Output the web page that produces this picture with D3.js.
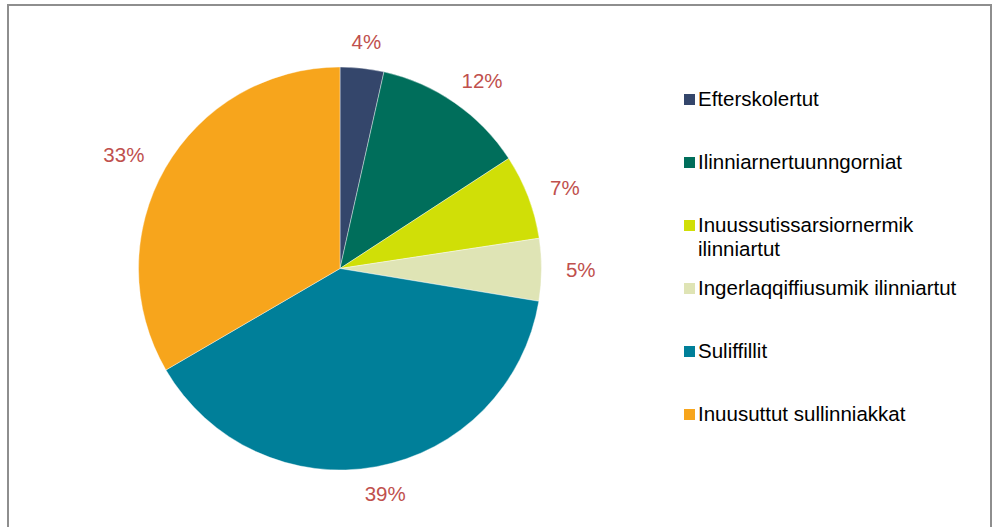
<!DOCTYPE html>
<html>
<head>
<meta charset="utf-8">
<script src="https://cdn.jsdelivr.net/npm/d3@7"></script>
<style>
  body { margin: 0; background: #fff; }
  text { font-family: "Liberation Sans", Arial, sans-serif; }
</style>
</head>
<body>
<script>
var categories = ['Efterskolertut',
  'Ilinniarnertuunngorniat',
  'Inuussutissarsiornermik ilinniartut',
  'Ingerlaqqiffiusumik ilinniartut',
  'Suliffillit',
  'Inuusuttut sullinniakkat'];
var values = [3.5, 12.3, 6.8, 5.0, 39.0, 33.4];
var colors = ['#34466b', '#006e5b', '#d0df07', '#dfe4b5', '#007f99', '#f7a51c'];

var w = 998;
var h = 527;
var cx = 340;
var cy = 268.5;
var r = 201.5;

var svg = d3.select("body").append("svg")
  .attr("width", w)
  .attr("height", h);

// chart frame
svg.append("rect")
  .attr("x", 8)
  .attr("y", 5)
  .attr("width", 983)
  .attr("height", 540)
  .attr("fill", "none")
  .attr("stroke", "#8e8e8e")
  .attr("stroke-width", 2);

var total = d3.sum(values);
var pie = d3.pie().sort(null).value(function(d) { return d; });
var arcs = pie(values);
var arc = d3.arc().innerRadius(0).outerRadius(r);

var g = svg.append("g")
  .attr("transform", "translate(" + cx + "," + cy + ")");

g.selectAll("path")
  .data(arcs)
  .enter()
  .append("path")
  .attr("d", arc)
  .attr("fill", function(d, i) { return colors[i]; })
  .attr("stroke", "#fff")
  .attr("stroke-width", 0.4);

// percent labels, outside end
var pad = 17;
g.selectAll("text.pct")
  .data(arcs)
  .enter()
  .append("text")
  .attr("class", "pct")
  .text(function(d) { return Math.round(d.value / total * 100) + "%"; })
  .attr("font-size", "20.5px")
  .attr("fill", "#c0504d")
  .attr("text-anchor", "middle")
  .attr("dominant-baseline", "central")
  .attr("x", function(d) {
    var a = (d.startAngle + d.endAngle) / 2;
    var tw = this.getComputedTextLength();
    return (r + pad) * Math.sin(a) + tw * 0.75 * Math.sin(a);
  })
  .attr("y", function(d) {
    var a = (d.startAngle + d.endAngle) / 2;
    return -(r + pad) * Math.cos(a) - 10 * Math.cos(a);
  });

// legend
var legend = svg.append("g")
  .attr("transform", "translate(684,106)");

var item = legend.selectAll("g")
  .data(categories)
  .enter()
  .append("g")
  .attr("transform", function(d, i) { return "translate(0," + (i * 63) + ")"; });

item.append("rect")
  .attr("x", 0)
  .attr("y", -12)
  .attr("width", 11)
  .attr("height", 11)
  .attr("fill", function(d, i) { return colors[i]; });

item.append("text")
  .attr("y", 0)
  .attr("font-size", "20.5px")
  .attr("fill", "#000")
  .each(function(d) {
    var t = d3.select(this);
    var words = d.split(" ");
    var line = [];
    var tspan = t.append("tspan").attr("x", 14).attr("dy", 0);
    words.forEach(function(word) {
      line.push(word);
      tspan.text(line.join(" "));
      if (tspan.node().getComputedTextLength() > 280 && line.length > 1) {
        line.pop();
        tspan.text(line.join(" "));
        line = [word];
        tspan = t.append("tspan").attr("x", 14).attr("dy", 24).text(word);
      }
    });
  });
</script>
</body>
</html>
